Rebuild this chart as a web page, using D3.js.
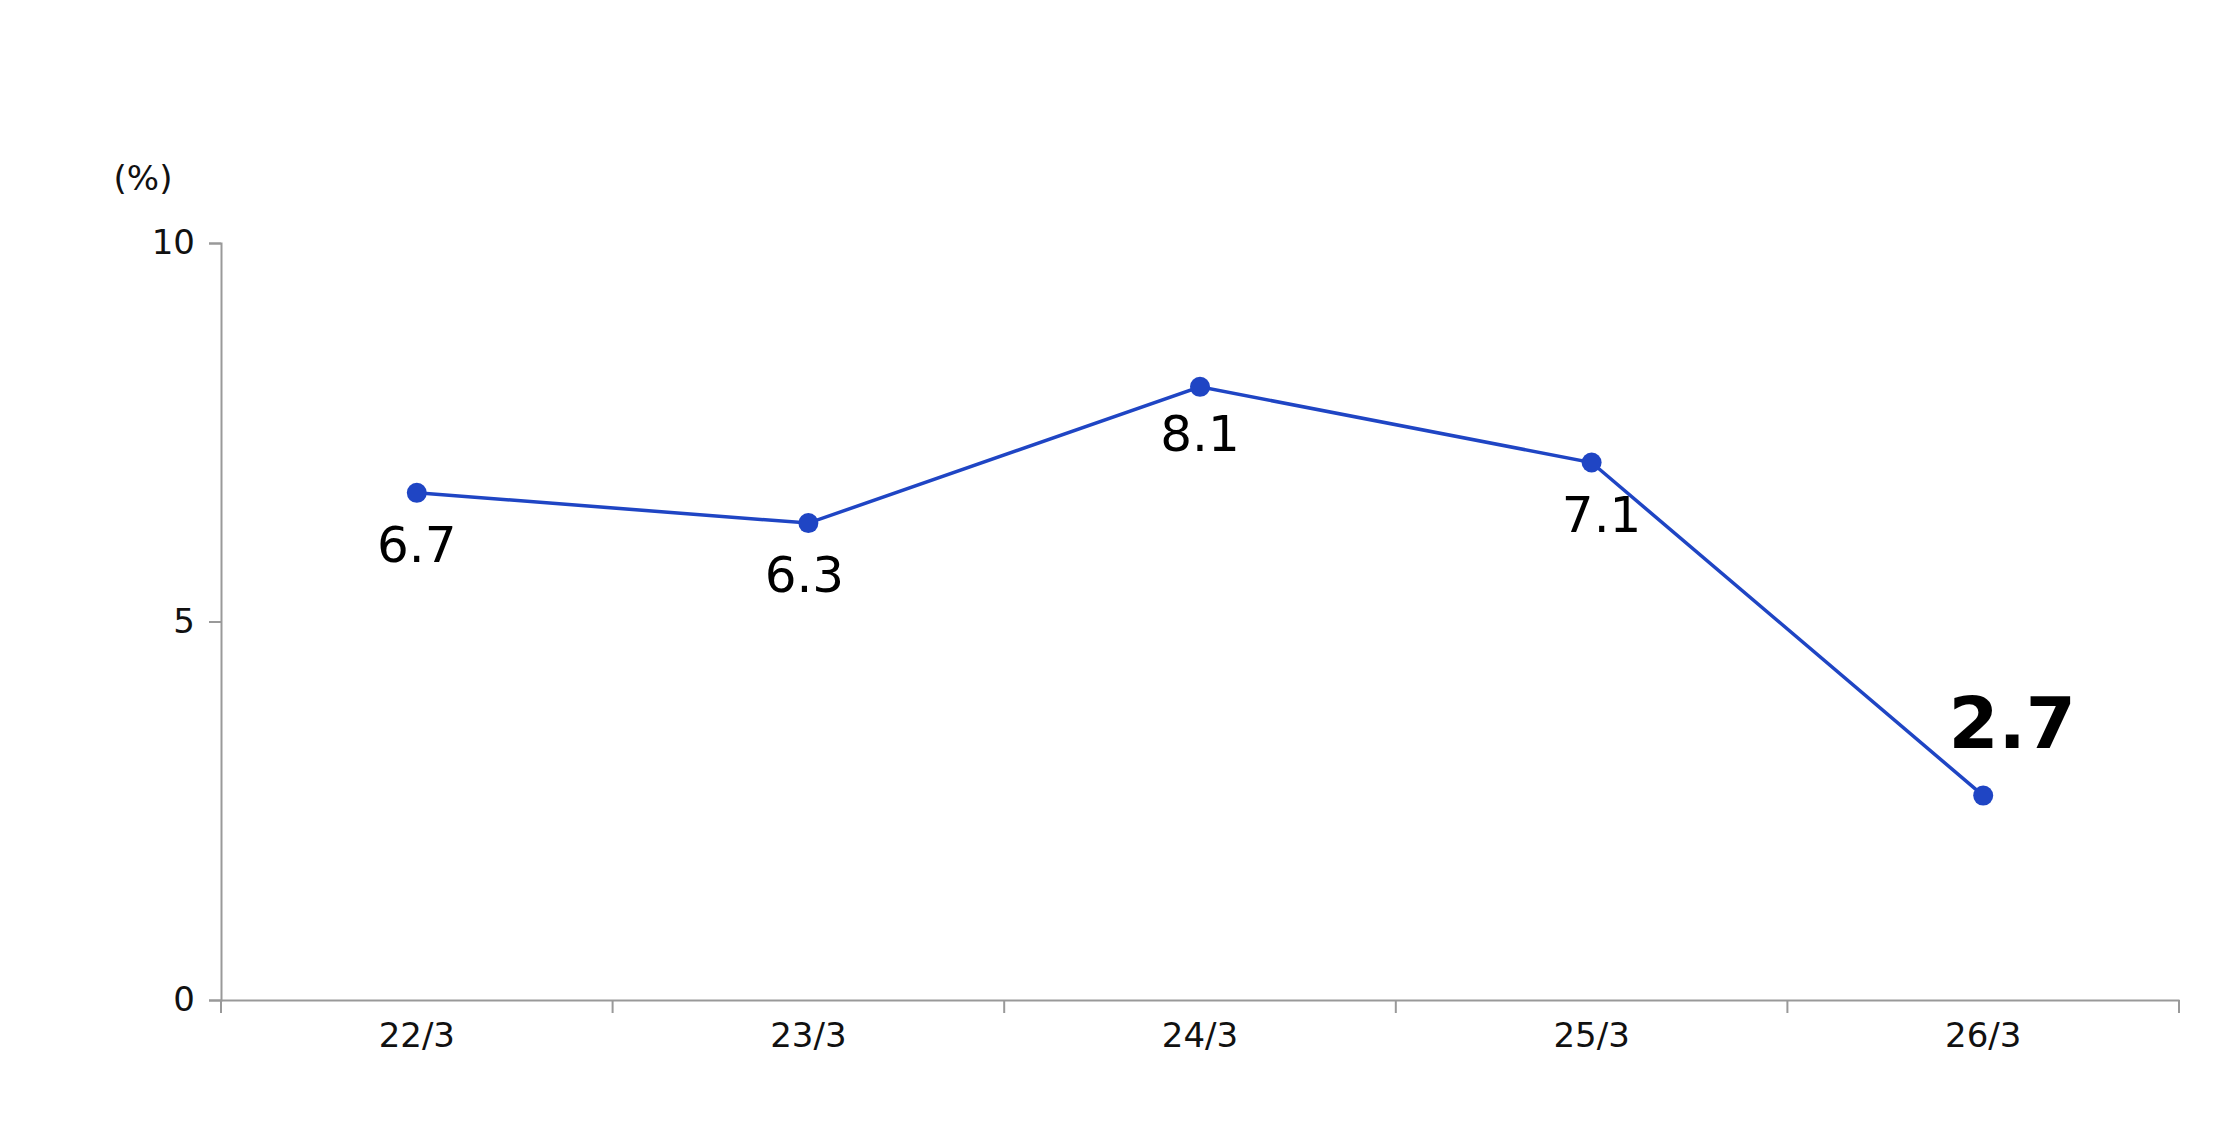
<!DOCTYPE html><html><head><meta charset="utf-8"><script src="https://cdn.jsdelivr.net/npm/d3@7"></script>
<style>body{margin:0;background:#fff}text{font-family:"DejaVu Sans",Verdana,sans-serif}</style></head><body>
<svg id="c" width="2240" height="1140"></svg>
<script>
const categories=["22/3","23/3","24/3","25/3","26/3"];
const values=[6.7,6.3,8.1,7.1,2.7];
const yTicks=[0,5,10];
const svg=d3.select("#c");
const L=221,R=2179,T=243,B=1000;
const x=d3.scaleBand().domain(categories).range([L,R]);
const y=d3.scaleLinear().domain([0,10]).range([B,T]);
const gray="#999";
const yAxis=svg.append("g").attr("transform",`translate(${L},0)`).call(d3.axisLeft(y).tickValues(yTicks).tickSize(12).tickPadding(14));
const xAxis=svg.append("g").attr("transform",`translate(0,${B})`).call(d3.axisBottom(x).tickSize(0).tickPadding(40));
[yAxis,xAxis].forEach(g=>{g.selectAll("path,line").attr("stroke",gray).attr("stroke-width",2);g.selectAll("text").attr("font-size",34).attr("fill","#111").attr("font-family","DejaVu Sans");});
xAxis.selectAll(".tick text").attr("dy","0.2em");
svg.append("g").selectAll("line").data(d3.range(categories.length+1)).join("line")
 .attr("x1",i=>L+i*x.step()).attr("x2",i=>L+i*x.step()).attr("y1",B).attr("y2",B+13).attr("stroke",gray).attr("stroke-width",2);
svg.append("text").attr("x",143).attr("y",190).attr("text-anchor","middle").attr("font-size",34).attr("fill","#111").text("(%)");
const cx=d=>x(d)+x.bandwidth()/2;
svg.append("path").datum(values).attr("fill","none").attr("stroke","#1f45c4").attr("stroke-width",3.5)
 .attr("d",d3.line().x((d,i)=>cx(categories[i])).y(d=>y(d)));
svg.selectAll("circle.p").data(values).join("circle").attr("cx",(d,i)=>cx(categories[i])).attr("cy",d=>y(d)).attr("r",10).attr("fill","#1f45c4");
svg.selectAll("text.v").data(values).join("text").attr("class","v")
 .attr("x",(d,i)=>cx(categories[i])+(i==4?29:(i==3?10:(i==1?-4:0))))
 .attr("y",(d,i)=>y(d)+(i==4?-48:(i==2?64:69)))
 .attr("text-anchor","middle").attr("font-size",(d,i)=>i==4?72:50).attr("font-weight",(d,i)=>i==4?"bold":"normal")
 .attr("fill","#000").text(d=>d.toFixed(1));
</script></body></html>
